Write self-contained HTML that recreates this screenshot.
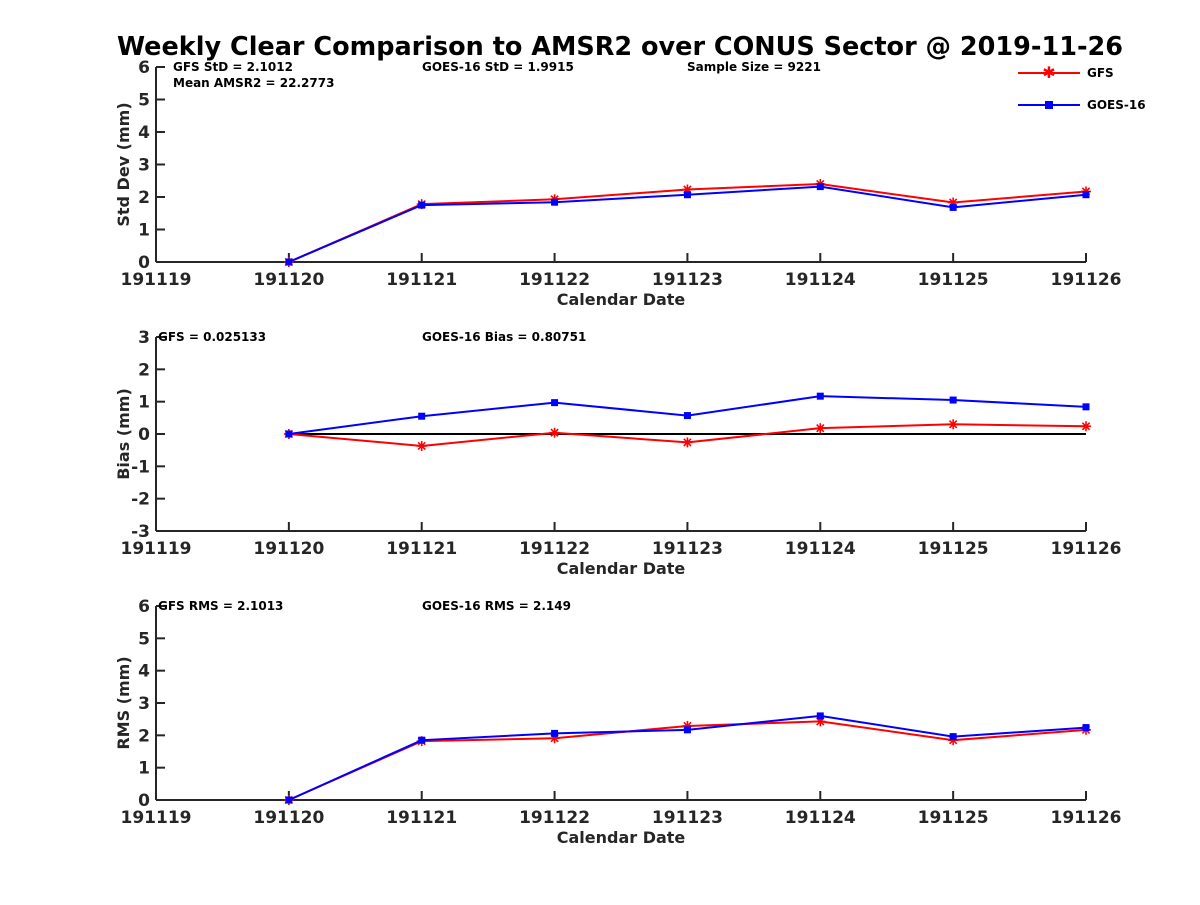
<!DOCTYPE html>
<html><head><meta charset="utf-8"><style>
body{margin:0;background:#fff;font-family:"Liberation Sans","DejaVu Sans",sans-serif}
svg text{font-family:"DejaVu Sans","Liberation Sans",sans-serif;font-weight:bold}
</style></head><body>
<svg id="c" width="1200" height="900" xmlns="http://www.w3.org/2000/svg">
<text x="620" y="55" text-anchor="middle" font-size="25.5" fill="#000">Weekly Clear Comparison to AMSR2 over CONUS Sector @ 2019-11-26</text>
<g>
<line x1="1018" y1="73" x2="1080" y2="73" stroke="red" stroke-width="2"/>
<text x="1049" y="78" text-anchor="middle" font-size="16" fill="red">✱</text>
<text x="1087" y="77" font-size="12" fill="#000">GFS</text>
<line x1="1018" y1="105" x2="1080" y2="105" stroke="blue" stroke-width="2"/>
<rect x="1045" y="101" width="8" height="8" fill="blue"/>
<text x="1087" y="109" font-size="12" fill="#000">GOES-16</text>
</g>
</svg>
<script>
const categories=["191119","191120","191121","191122","191123","191124","191125","191126"];
const stdGFS=[null,0,1.78,1.93,2.23,2.40,1.83,2.17];
const stdGOES=[null,0,1.75,1.84,2.07,2.32,1.68,2.07];
const biasGFS=[null,0,-0.37,0.04,-0.26,0.18,0.30,0.24];
const biasGOES=[null,0,0.55,0.97,0.57,1.17,1.05,0.84];
const rmsGFS=[null,0,1.82,1.91,2.29,2.43,1.85,2.17];
const rmsGOES=[null,0,1.85,2.06,2.17,2.60,1.96,2.24];
const stdTicks=[0,1,2,3,4,5,6];
const biasTicks=[-3,-2,-1,0,1,2,3];
const rmsTicks=[0,1,2,3,4,5,6];
const svg=document.getElementById('c');
const NS='http://www.w3.org/2000/svg';
function mk(tag,at,parent){const e=document.createElementNS(NS,tag);for(const k in at)e.setAttribute(k,at[k]);(parent||svg).appendChild(e);return e;}
const X0=156,X1=1086;
function xs(i){return X0+(X1-X0)*i/(categories.length-1);}
function panel(name,top,bot,ymin,ymax,ticks,ylabel,gfs,goes,notes,zeroLine){
  const g=mk('g',{});
  
  
  const ys=v=>bot-(v-ymin)/(ymax-ymin)*(bot-top);
  mk('line',{x1:X0,y1:top,x2:X0,y2:bot,stroke:'#262626','stroke-width':2},g);
  mk('line',{x1:X0,y1:bot,x2:X1,y2:bot,stroke:'#262626','stroke-width':2},g);
  ticks.forEach(t=>{const y=ys(t);
    mk('line',{x1:X0,y1:y,x2:X0+9,y2:y,stroke:'#262626','stroke-width':2},g);
    const tx=mk('text',{x:X0-6,y:y+6,'text-anchor':'end','font-size':17,fill:'#262626'},g);tx.textContent=t;
    
    });
  categories.forEach((c,i)=>{const x=xs(i);
    mk('line',{x1:x,y1:bot,x2:x,y2:bot-9,stroke:'#262626','stroke-width':2},g);
    const tx=mk('text',{x:x,y:bot+23,'text-anchor':'middle','font-size':17,fill:'#262626'},g);tx.textContent=c;
    
    });
  const xl=mk('text',{x:621,y:bot+43,'text-anchor':'middle','font-size':16,fill:'#262626'},g);xl.textContent='Calendar Date';
  
  
  const yl=mk('text',{x:0,y:0,'text-anchor':'middle','font-size':16,fill:'#262626',transform:`translate(129,${(top+bot)/2}) rotate(-90)`},g);yl.textContent=ylabel;
  
  
  notes.forEach(n=>{const t=mk('text',{x:n[0],y:n[1],'font-size':12,fill:'#000'},g);t.textContent=n[2];
    
    });
  if(zeroLine){const zl=mk('line',{x1:xs(1),y1:ys(0),x2:X1,y2:ys(0),stroke:'#000','stroke-width':2},g);
    
    }
  function series(vals,color,marker,sname){
    const pts=[];vals.forEach((v,i)=>{if(v!==null)pts.push([xs(i),ys(v)]);});
    const pl=mk('polyline',{points:pts.map(p=>p.join(',')).join(' '),fill:'none',stroke:color,'stroke-width':2},g);
    
    
    pts.forEach(p=>{let m;
      if(marker==='sq'){m=mk('rect',{x:p[0]-3.5,y:p[1]-3.5,width:7,height:7,fill:color},g);}
      else{m=mk('g',{stroke:color,'stroke-width':1.6},g);
        [[0,5],[5,0],[3.6,3.6],[3.6,-3.6]].forEach(d=>mk('line',{x1:p[0]-d[0],y1:p[1]-d[1],x2:p[0]+d[0],y2:p[1]+d[1]},m));}
      
      });
  }
  series(gfs,'red','star','gfs');
  series(goes,'blue','sq','goes16');
}
panel('std',67,262,0,6,stdTicks,'Std Dev (mm)',stdGFS,stdGOES,[[173,71,'GFS StD = 2.1012'],[173,87,'Mean AMSR2 = 22.2773'],[422,71,'GOES-16 StD = 1.9915'],[687,71,'Sample Size = 9221']],false);
panel('bias',337,531,-3,3,biasTicks,'Bias (mm)',biasGFS,biasGOES,[[158,341,'GFS = 0.025133'],[422,341,'GOES-16 Bias  = 0.80751']],true);
panel('rms',606,800,0,6,rmsTicks,'RMS (mm)',rmsGFS,rmsGOES,[[158,610,'GFS RMS = 2.1013'],[422,610,'GOES-16 RMS = 2.149']],false);
</script>
</body></html>
